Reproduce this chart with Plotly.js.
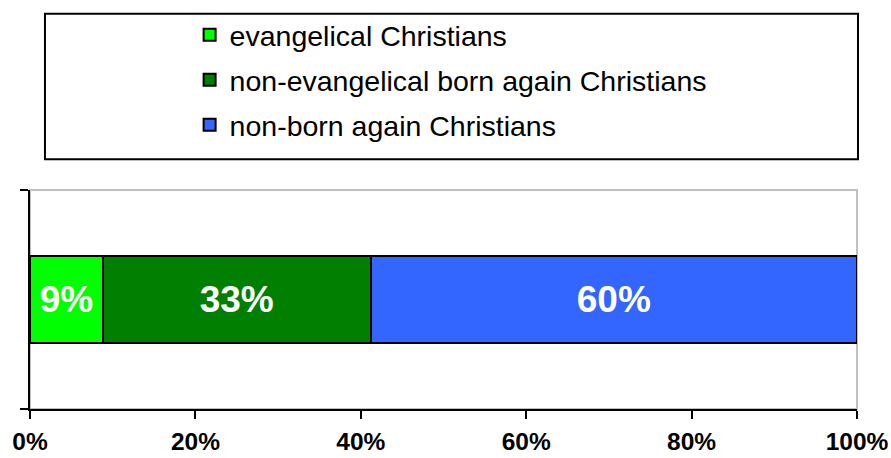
<!DOCTYPE html>
<html>
<head>
<meta charset="utf-8">
<script src="https://cdn.plot.ly/plotly-3.0.1.min.js"></script>
<style>html,body{margin:0;padding:0;background:#fff;}#chart{width:891px;height:458px;}</style>
</head>
<body>
<div id="chart"></div>
<script>
var category = ["all"];
var seriesNames = ["evangelical Christians", "non-evangelical born again Christians", "non-born again Christians"];
var seriesValues = [9, 33, 60];
var seriesColors = ["#00ff00", "#007f00", "#3366ff"];
var xTickVals = [0, 20, 40, 60, 80, 100];
var xTickText = ["0%", "20%", "40%", "60%", "80%", "100%"];

var FONT = "'Liberation Sans', Arial, sans-serif";

var traces = seriesNames.map(function(name, i){
  return {
    type: "bar",
    orientation: "h",
    name: name,
    legendgroup: "g" + i,
    y: category,
    x: [seriesValues[i]],
    text: [String(seriesValues[i])],
    texttemplate: "%{text}%",
    textposition: "inside",
    insidetextanchor: "middle",
    constraintext: "none",
    textfont: {family: FONT, size: 37, color: "#ffffff", weight: "bold"},
    marker: {color: seriesColors[i], line: {color: "#000000", width: 2}},
    width: 0.4,
    hoverinfo: "skip"
  };
});

var layout = {
  width: 891, height: 458,
  margin: {l: 30, r: 34, t: 189, b: 49, pad: 0},
  paper_bgcolor: "#ffffff",
  plot_bgcolor: "#ffffff",
  barmode: "stack",
  barnorm: "percent",
  font: {family: FONT, color: "#000000"},
  showlegend: true,
  legend: {
    orientation: "v",
    x: 0.193, xanchor: "left",
    y: 1.815, yanchor: "top",
    traceorder: "grouped",
    tracegroupgap: 5,
    bgcolor: "rgba(0,0,0,0)",
    borderwidth: 0,
    font: {family: FONT, size: 28.5, color: "#000000"},
    itemclick: false, itemdoubleclick: false
  },
  xaxis: {
    range: [0, 100],
    tickvals: xTickVals,
    ticktext: xTickText,
    ticks: "outside", ticklen: 8, tickwidth: 2, tickcolor: "#000000",
    ticklabelstandoff: 2,
    showline: true, linecolor: "#000000", linewidth: 2,
    showgrid: false, zeroline: false,
    tickfont: {family: FONT, size: 24.5, color: "#000000", weight: "bold"},
    fixedrange: true
  },
  yaxis: {
    type: "category",
    range: [-0.5, 0.5],
    tickson: "boundaries",
    ticks: "outside", ticklen: 8, tickwidth: 2, tickcolor: "#000000",
    showticklabels: false,
    showline: true, linecolor: "#000000", linewidth: 2,
    showgrid: false, zeroline: false,
    fixedrange: true
  },
  shapes: [
    {type: "rect", xref: "paper", yref: "paper", x0: 0, x1: 1, y0: 0, y1: 1,
     line: {color: "#c0c0c0", width: 2}, layer: "below"},
    {type: "rect", xref: "paper", yref: "paper", x0: 0.0181, x1: 1.0012, y0: 1.1409, y1: 1.8045,
     line: {color: "#000000", width: 2}, fillcolor: "rgba(0,0,0,0)", layer: "above"}
  ]
};

Plotly.newPlot("chart", traces, layout, {displayModeBar: false, staticPlot: true});
</script>
</body>
</html>
